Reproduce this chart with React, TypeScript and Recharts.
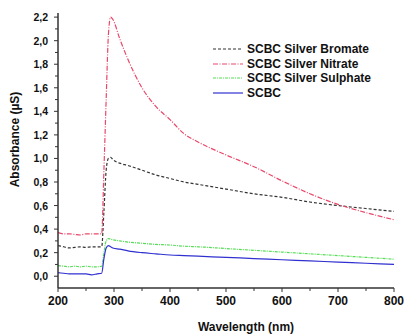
import React from "react";
import { Label, Legend, Line, LineChart, XAxis, YAxis } from "recharts";

// Wavelength (nm) sample points
const wavelength = [
  200, 210, 220, 230, 240, 250, 260, 270, 278, 282, 286, 290, 294, 298, 310,
  325, 350, 375, 400, 425, 450, 500, 550, 600, 650, 700, 750, 800,
];

const silverBromate = [
  0.26, 0.25, 0.24, 0.245, 0.25, 0.245, 0.25, 0.25, 0.25, 0.55, 0.9, 1.0,
  1.01, 0.99, 0.96, 0.94, 0.9, 0.86, 0.83, 0.8, 0.78, 0.74, 0.7, 0.67, 0.63,
  0.6, 0.575, 0.55,
];

const silverNitrate = [
  0.37, 0.36, 0.36, 0.355, 0.35, 0.36, 0.36, 0.36, 0.36, 0.9, 1.5, 2.05, 2.2,
  2.18, 2.02, 1.84, 1.6, 1.44, 1.33, 1.21, 1.14, 1.03, 0.93, 0.81, 0.7, 0.61,
  0.54, 0.48,
];

const silverSulphate = [
  0.09, 0.085, 0.08, 0.085, 0.08, 0.085, 0.08, 0.08, 0.085, 0.2, 0.3, 0.32,
  0.315, 0.31, 0.3, 0.29, 0.28, 0.27, 0.265, 0.255, 0.25, 0.235, 0.22, 0.205,
  0.19, 0.175, 0.16, 0.145,
];

const scbc = [
  0.03, 0.025, 0.02, 0.02, 0.02, 0.02, 0.012, 0.02, 0.025, 0.15, 0.24, 0.26,
  0.25, 0.24, 0.23, 0.215, 0.2, 0.19, 0.18, 0.175, 0.17, 0.16, 0.15, 0.14,
  0.13, 0.12, 0.11, 0.1,
];

const xTicks = [200, 250, 300, 350, 400, 450, 500, 550, 600, 650, 700, 750, 800];
const yTicks = [
  0, 0.1, 0.2, 0.3, 0.4, 0.5, 0.6, 0.7, 0.8, 0.9, 1.0, 1.1, 1.2, 1.3, 1.4, 1.5,
  1.6, 1.7, 1.8, 1.9, 2.0, 2.1, 2.2,
];

const series = [
  { key: "bromate", name: "SCBC Silver Bromate", color: "#333333", dash: "3 2" },
  { key: "nitrate", name: "SCBC Silver Nitrate", color: "#e8486a", dash: "5 1.5 1 1.5" },
  { key: "sulphate", name: "SCBC Silver Sulphate", color: "#55dd55", dash: "3 1 1 1" },
  { key: "scbc", name: "SCBC", color: "#3030d0", dash: undefined },
];

const data = wavelength.map((w, i) => ({
  w,
  bromate: silverBromate[i],
  nitrate: silverNitrate[i],
  sulphate: silverSulphate[i],
  scbc: scbc[i],
}));

const FONT = '"Liberation Sans", Arial, sans-serif';
const AXIS = "#333333";

function XTick(props: any) {
  const { x, y, payload } = props;
  const major = payload.value % 100 === 0;
  return (
    <g>
      <line x1={x} x2={x} y1={y} y2={y + (major ? 4 : 3)} stroke={AXIS} />
      {major && (
        <text
          x={x}
          y={y + 13}
          textAnchor="middle"
          dominantBaseline="central"
          fontFamily={FONT}
          fontSize={12}
          fontWeight="bold"
          fill="#111"
        >
          {payload.value}
        </text>
      )}
    </g>
  );
}

function YTick(props: any) {
  const { x, y, payload } = props;
  const major = Math.round(payload.value * 10) % 2 === 0;
  return (
    <g>
      <line x1={x - (major ? 4 : 3)} x2={x} y1={y} y2={y} stroke={AXIS} />
      {major && (
        <text
          x={x - 10}
          y={y}
          textAnchor="end"
          dominantBaseline="central"
          fontFamily={FONT}
          fontSize={10.5}
          fontWeight="bold"
          fill="#111"
        >
          {payload.value.toFixed(1).replace(".", ",")}
        </text>
      )}
    </g>
  );
}

function LegendBox() {
  return (
    <div style={{ fontFamily: FONT, fontSize: 12, fontWeight: "bold", color: "#111" }}>
      {series.map((s) => (
        <div key={s.key} style={{ display: "flex", alignItems: "center", height: 14.5 }}>
          <svg width={30} height={6} style={{ marginRight: 4 }}>
            <line x1={0} x2={30} y1={3} y2={3} stroke={s.color} strokeWidth={1.2} strokeDasharray={s.dash} />
          </svg>
          <span>{s.name}</span>
        </div>
      ))}
    </div>
  );
}

export default function App() {
  return (
    <div style={{ position: "fixed", left: 0, top: 0, background: "#fff" }}>
      <LineChart width={405} height={335} data={data} margin={{ top: 13, right: 11, left: 0, bottom: 0 }}>
        <XAxis
          dataKey="w"
          type="number"
          domain={[200, 800]}
          ticks={xTicks}
          interval={0}
          tickSize={0}
          tickMargin={0}
          tickLine={false}
          tick={<XTick />}
          height={47}
          axisLine={{ stroke: AXIS, strokeWidth: 1.5 }}
        >
          <Label
            content={({ viewBox }: any) => (
              <text
                x={viewBox.x + viewBox.width / 2 + 20}
                y={viewBox.y + 39}
                textAnchor="middle"
                dominantBaseline="central"
                fontFamily={FONT}
                fontSize={12}
                fontWeight="bold"
                fill="#111"
              >
                Wavelength (nm)
              </text>
            )}
          />
        </XAxis>
        <XAxis
          xAxisId="top"
          orientation="top"
          dataKey="w"
          type="number"
          domain={[200, 800]}
          tick={false}
          tickLine={false}
          height={0}
          axisLine={{ stroke: "#555", strokeWidth: 1.2 }}
        />
        <YAxis
          type="number"
          domain={[-0.1, 2.235]}
          allowDataOverflow
          ticks={yTicks}
          interval={0}
          tickSize={0}
          tickMargin={0}
          tickLine={false}
          tick={<YTick />}
          width={58}
          axisLine={{ stroke: AXIS, strokeWidth: 1.5 }}
        >
          <Label
            content={({ viewBox }: any) => {
              const cx = viewBox.x + 15;
              const cy = viewBox.y + viewBox.height / 2 - 11;
              return (
                <text
                  x={cx}
                  y={cy}
                  transform={`rotate(-90 ${cx} ${cy})`}
                  textAnchor="middle"
                  dominantBaseline="central"
                  fontFamily={FONT}
                  fontSize={12}
                  fontWeight="bold"
                  fill="#111"
                >
                  Absorbance (µS)
                </text>
              );
            }}
          />
        </YAxis>
        <YAxis
          yAxisId="right"
          orientation="right"
          domain={[-0.1, 2.235]}
          tick={false}
          tickLine={false}
          width={0}
          axisLine={{ stroke: AXIS, strokeWidth: 1.5 }}
        />
        <Legend
          layout="vertical"
          align="center"
          verticalAlign="middle"
          content={<LegendBox />}
          wrapperStyle={{ top: 42, left: 213, width: 180 }}
        />
        {series.map((s) => (
          <Line
            key={s.key}
            dataKey={s.key}
            name={s.name}
            type="monotone"
            stroke={s.color}
            strokeWidth={1.2}
            strokeDasharray={s.dash}
            dot={false}
            isAnimationActive={false}
          />
        ))}
      </LineChart>
    </div>
  );
}
